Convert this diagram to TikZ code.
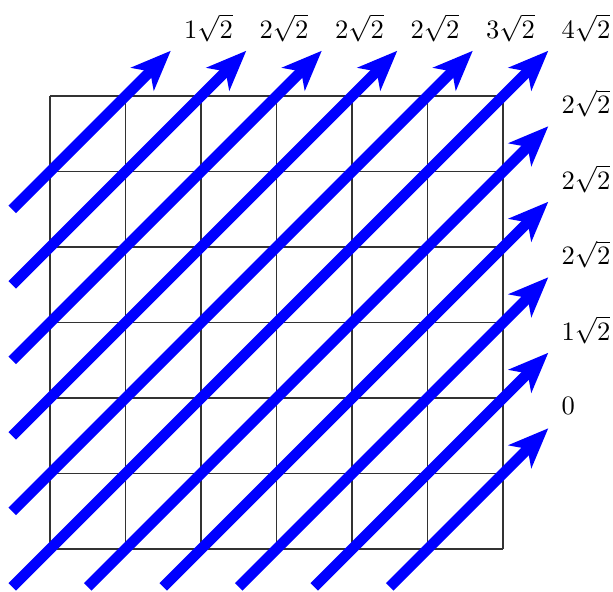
\documentclass[tikz,border=0pt]{standalone}
\usepackage{amsmath, amssymb}
\usepackage{tikz}
\usetikzlibrary{arrows.meta, positioning, calc}
\tikzset{
    diag/.style={-{Stealth[length=15pt, width=12pt, inset=4pt]}, line width=4pt, blue},
    cost/.style={font=\fontsize{9.6}{12}\selectfont, anchor=west, inner sep=0pt},
    rejilla/.style={black!80, line width=0.5pt}
}

\begin{document}
\begin{tikzpicture}
        \useasboundingbox (-0.662,-0.556) rectangle (7.457,7.272);
        % Rejilla
        \draw[rejilla] (0,0) grid (6,6);

        % Diagonales que salen por arriba
        \foreach \k/\lab in {1/{1\sqrt{2}}, 2/{2\sqrt{2}}, 3/{2\sqrt{2}}, 4/{2\sqrt{2}}, 5/{3\sqrt{2}}, 6/{4\sqrt{2}}} {
            \coordinate (ts\k) at (-0.5,{5.5-\k});
            \coordinate (te\k) at ({\k+0.6},6.6);
            \draw[diag] (ts\k) -- (te\k);
            \node[cost] (lt\k) at ($(te\k)+(0.17,0.3)$) {$\lab$};
        }

        % Diagonales que salen por la derecha
        \foreach \k/\lab in {1/{2\sqrt{2}}, 2/{2\sqrt{2}}, 3/{2\sqrt{2}}, 4/{1\sqrt{2}}, 5/{0}} {
            \coordinate (rs\k) at ({\k-0.5},-0.5);
            \coordinate (re\k) at (6.6,{6.6-\k});
            \draw[diag] (rs\k) -- (re\k);
            \node[cost] (lr\k) at ($(re\k)+(0.17,0.3)$) {$\lab$};
        }
    \end{tikzpicture}
\end{document}
